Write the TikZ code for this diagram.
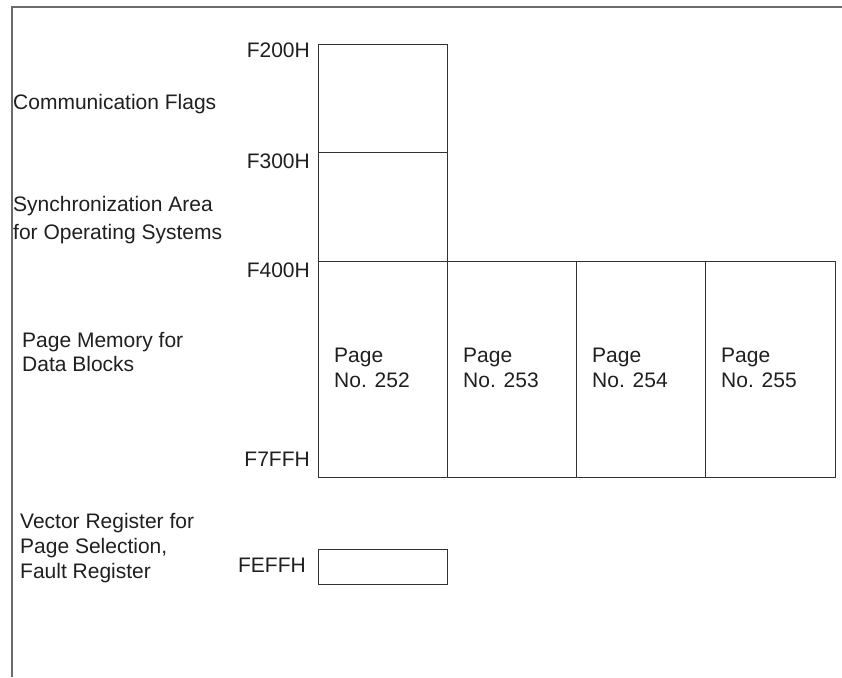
\documentclass[tikz,border=0pt]{standalone}
\usepackage{fontspec}
\setmainfont{Liberation Sans}
\begin{document}
\begin{tikzpicture}[x=1pt,y=-1pt,
  lbl/.style={inner sep=0pt,anchor=base west,text=black!88,font=\fontsize{21}{25}\selectfont},
  addr/.style={inner sep=0pt,anchor=base east,text=black!88,font=\fontsize{21}{25}\selectfont},
  membox/.style={draw=black!80,line width=1pt,inner sep=0pt,anchor=north west,minimum width=129pt},
  frameline/.style={draw=black!58,line width=2pt}]
\useasboundingbox (0,0) rectangle (842,677);
% frame (top and left edges only)
\coordinate (ftr) at (842,7);
\coordinate (ftl) at (11.5,7);
\coordinate (fbl) at (11.5,677);
\draw[frameline] (ftr) -- (ftl) -- (fbl);
% memory boxes
\node[membox,minimum height=108pt] (comm) at (318,44) {};
\node[membox,minimum height=109pt] (sync) at (318,152) {};
\node[membox,minimum height=216pt] (p252) at (318,261) {};
\node[membox,minimum height=216pt] (p253) at (447,261) {};
\node[membox,minimum height=216pt] (p254) at (576,261) {};
\node[membox,minimum height=216pt,minimum width=130pt] (p255) at (705,261) {};
\node[membox,minimum height=35pt] (vreg) at (318,549) {};
% addresses
\node[addr] (aF200) at (310,57.5) {F200H};
\node[addr] (aF300) at (310,168.5) {F300H};
\node[addr] (aF400) at (310,277.5) {F400H};
\node[addr] (aF7FF) at (310,466.5) {F7FFH};
\node[addr] (aFEFF) at (306,572.5) {FEFFH};
% area descriptions
\node[lbl] (dcomm) at (13,109.5) {Communication Flags};
\node[lbl] (dsync1) at (13,211.5) {Synchronization Area};
\node[lbl] (dsync2) at (13,239.5) {for Operating Systems};
\node[lbl] (dpage1) at (22,347.5) {Page Memory for};
\node[lbl] (dpage2) at (22,371.5) {Data Blocks};
\node[lbl] (dvec1) at (20,528.5) {Vector Register for};
\node[lbl] (dvec2) at (20,553.5) {Page Selection,};
\node[lbl] (dvec3) at (20,578.5) {Fault Register};
% page labels
\foreach \n/\x in {252/334,253/463,254/592,255/721}{
  \node[lbl] (pg\n a) at (\x,362.5) {Page};
  \node[lbl] (pg\n b) at (\x,387.5) {No. \n};
}
\end{tikzpicture}
\end{document}
